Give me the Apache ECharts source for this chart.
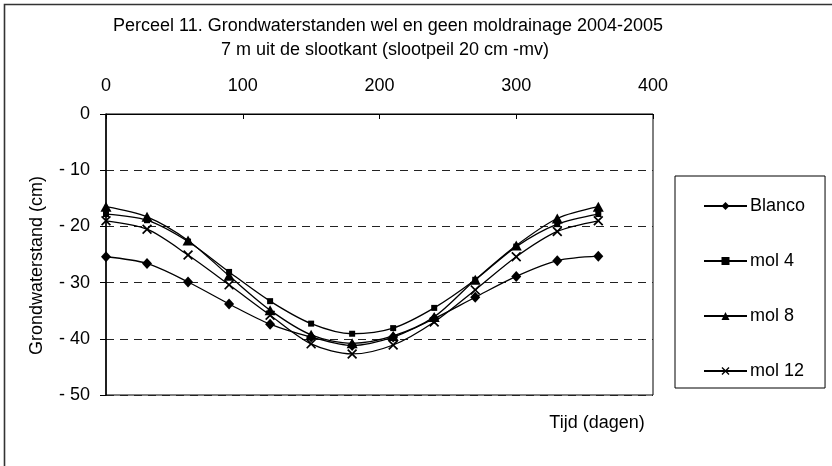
<!DOCTYPE html>
<html>
<head>
<meta charset="utf-8">
<script src="https://cdn.jsdelivr.net/npm/echarts@6/dist/echarts.min.js"></script>
<style>
  html, body { margin: 0; padding: 0; background: #fff; }
  #chart { width: 832px; height: 466px; }
</style>
</head>
<body>
<div id="chart"></div>
<script>
// Measurement days
const days = [0, 30, 60, 90, 120, 150, 180, 210, 240, 270, 300, 330, 360];

// Groundwater levels (cm relative to surface)
const blanco = [-25.4, -26.6, -29.9, -33.8, -37.4, -39.7, -41.2, -39.7, -36.4, -32.6, -28.9, -26.1, -25.3];
const mol4   = [-17.8, -18.9, -22.7, -28.1, -33.3, -37.3, -39.1, -38.1, -34.5, -29.5, -23.6, -19.6, -17.8];
const mol8   = [-16.5, -18.3, -22.5, -28.8, -34.9, -39.3, -40.8, -39.5, -36.1, -29.5, -23.4, -18.6, -16.5];
const mol12  = [-19.0, -20.5, -25.1, -30.4, -35.8, -40.9, -42.7, -41.1, -37.0, -31.3, -25.4, -20.9, -19.0];

const seriesNames = ['Blanco', 'mol 4', 'mol 8', 'mol 12'];
const xTicks = [0, 100, 200, 300, 400];
const yTicks = [0, -10, -20, -30, -40, -50];

const FONT = '"Liberation Sans", Arial, sans-serif';
const FS = 18;
const crossPath = 'path://M0,1.2L1.2,0L5,3.8L8.8,0L10,1.2L6.2,5L10,8.8L8.8,10L5,6.2L1.2,10L0,8.8L3.8,5Z';

function pairs(vals) {
  return days.map((d, i) => [d, vals[i]]);
}

function lineSeries(name, vals, symbol, size) {
  return {
    name: name,
    type: 'line',
    data: pairs(vals),
    smooth: 0.3,
    symbol: symbol,
    symbolSize: size,
    showAllSymbol: true,
    lineStyle: { color: '#000', width: 1.3 },
    itemStyle: { color: '#000', borderWidth: 0 },
    emphasis: { disabled: true },
    z: 3
  };
}

const chart = echarts.init(document.getElementById('chart'), null, { renderer: 'canvas' });

const textStyle = { fontFamily: FONT, fontSize: FS, fontWeight: 'normal', color: '#000' };

chart.setOption({
  animation: false,
  backgroundColor: '#fff',
  textStyle: { fontFamily: FONT, color: '#000' },
  title: [
    {
      text: 'Perceel 11. Grondwaterstanden wel en geen moldrainage 2004-2005',
      left: 383, top: 12, textAlign: 'center', textStyle: textStyle
    },
    {
      text: '7 m uit de slootkant (slootpeil 20 cm -mv)',
      left: 380, top: 36, textAlign: 'center', textStyle: textStyle
    },
    {
      text: 'Tijd (dagen)',
      left: 592, top: 409, textAlign: 'center', textStyle: textStyle
    }
  ],
  graphic: [
    {
      type: 'rect',
      shape: { x: 4.5, y: 4.5, width: 900, height: 600 },
      style: { fill: 'none', stroke: '#333', lineWidth: 1.6 },
      silent: true
    }
  ],
  grid: {
    left: 106, top: 114, right: 179, bottom: 71,
    show: true, borderColor: '#000', borderWidth: 1, backgroundColor: 'transparent'
  },
  legend: {
    data: seriesNames,
    orient: 'vertical',
    left: 675, top: 176,
    padding: [21, 20, 8, 28],
    itemWidth: 43, itemHeight: 10,
    itemGap: 37,
    backgroundColor: '#fff',
    borderColor: '#000', borderWidth: 1,
    textStyle: { fontFamily: FONT, fontSize: FS, color: '#000', padding: [0, 0, 0, -2] },
    selectedMode: false
  },
  xAxis: {
    type: 'value',
    position: 'top',
    min: 0, max: 400, interval: 100,
    axisLine: { show: true, lineStyle: { color: '#000', width: 1 } },
    axisTick: { show: true, inside: true, length: 5, lineStyle: { color: '#000' } },
    axisLabel: {
      margin: 19, fontFamily: FONT, fontSize: FS, color: '#000',
      customValues: xTicks
    },
    splitLine: { show: false }
  },
  yAxis: {
    type: 'value',
    min: -50, max: 0, interval: 10,
    name: 'Grondwaterstand (cm)',
    nameLocation: 'middle',
    nameGap: 60,
    nameTextStyle: { fontFamily: FONT, fontSize: FS, color: '#000', padding: [0, 0, 0, -22] },
    axisLine: { show: true, lineStyle: { color: '#000', width: 1.5 } },
    axisTick: { show: true, length: 6, lineStyle: { color: '#000' } },
    axisLabel: {
      margin: 16, fontFamily: FONT, fontSize: FS, color: '#000',
      formatter: v => (yTicks.includes(v) ? String(v).replace('-', '- ') : '')
    },
    splitLine: { show: true, lineStyle: { color: '#222', type: [8, 6], width: 1 } }
  },
  series: [
    lineSeries('Blanco', blanco, 'diamond', [10, 11]),
    lineSeries('mol 4', mol4, 'rect', 6),
    lineSeries('mol 8', mol8, 'triangle', [11, 10]),
    lineSeries('mol 12', mol12, crossPath, 10)
  ]
});
</script>
</body>
</html>
